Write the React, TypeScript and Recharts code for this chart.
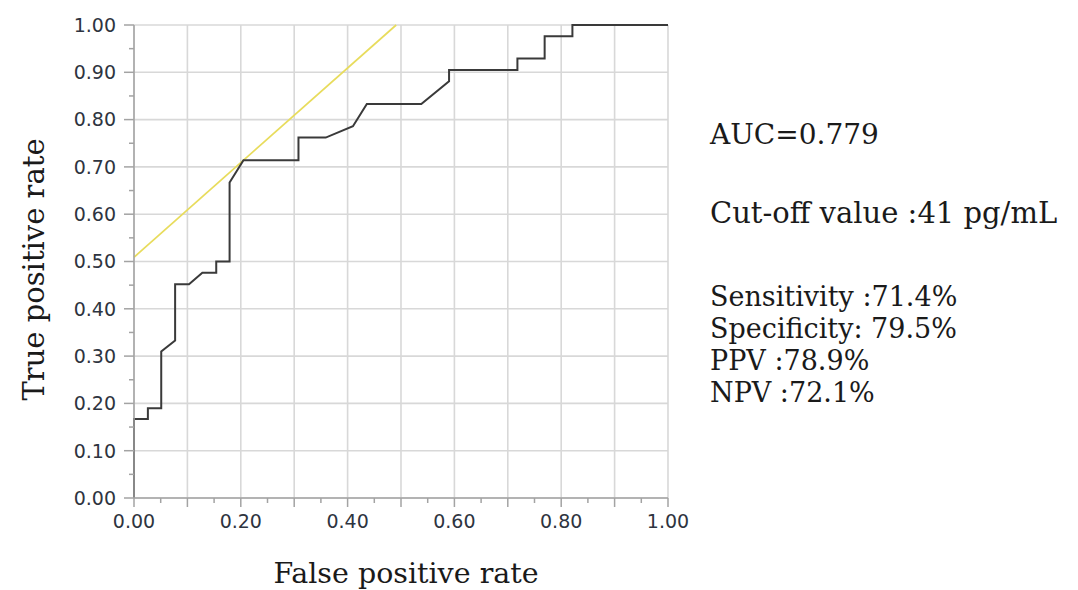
import { LineChart, Line, XAxis, YAxis, CartesianGrid, Label } from "recharts";

// ROC curve points
const rocFpr = [0, 0, 0.026, 0.026, 0.051, 0.051, 0.077, 0.077, 0.103, 0.128, 0.154, 0.154, 0.179, 0.179, 0.205, 0.308, 0.308, 0.359, 0.41, 0.436, 0.538, 0.59, 0.59, 0.718, 0.718, 0.769, 0.769, 0.821, 0.821, 1];
const rocTpr = [0, 0.167, 0.167, 0.19, 0.19, 0.31, 0.333, 0.452, 0.452, 0.476, 0.476, 0.5, 0.5, 0.667, 0.714, 0.714, 0.762, 0.762, 0.786, 0.833, 0.833, 0.881, 0.905, 0.905, 0.929, 0.929, 0.976, 0.976, 1, 1];

// yellow cut-off line (slope 1 through the best point)
const cutFpr = [0, 0.491];
const cutTpr = [0.509, 1];

const axisTicks = [0, 0.05, 0.1, 0.15, 0.2, 0.25, 0.3, 0.35, 0.4, 0.45, 0.5, 0.55, 0.6, 0.65, 0.7, 0.75, 0.8, 0.85, 0.9, 0.95, 1];
const gridValues = [0, 0.1, 0.2, 0.3, 0.4, 0.5, 0.6, 0.7, 0.8, 0.9, 1];
const xLabelValues = [0, 0.2, 0.4, 0.6, 0.8, 1];
const yLabelValues = gridValues;

const statsLines = [
  "AUC=0.779",
  "Cut-off value :41 pg/mL",
  "Sensitivity :71.4%",
  "Specificity: 79.5%",
  "PPV :78.9%",
  "NPV :72.1%",
];
const statsBaselines = [144, 223, 306, 338, 370, 402];
const statsSizes = [28, 29, 27, 27, 27, 27];

const rocData = rocFpr.map((x, i) => ({ fpr: x, tpr: rocTpr[i] }));
const cutData = cutFpr.map((x, i) => ({ fpr: x, tpr: cutTpr[i] }));

const has = (list: number[], v: number) => list.some((m) => Math.abs(m - v) < 1e-6);

const tickFont = { fontFamily: "DejaVu Sans, Verdana, sans-serif", fontSize: 19, fill: "#2e3440" };
const serif = "DejaVu Serif, serif";
const axisGray = "#a3a3a3";

const YTick = (props: any) => {
  const { x, y, payload } = props;
  const v = payload.value as number;
  const major = has(gridValues, v);
  const ax = x + 18;
  return (
    <g>
      <line x1={ax - (major ? 10 : 5)} x2={ax} y1={y} y2={y} stroke={axisGray} strokeWidth={1.5} />
      {has(yLabelValues, v) && (
        <text x={x} y={y} dy="0.36em" textAnchor="end" {...tickFont}>
          {v.toFixed(2)}
        </text>
      )}
    </g>
  );
};

const XTick = (props: any) => {
  const { x, y, payload } = props;
  const v = payload.value as number;
  const major = has(gridValues, v);
  const ay = y - 17;
  return (
    <g>
      <line x1={x} x2={x} y1={ay} y2={ay + (major ? 9 : 5)} stroke={axisGray} strokeWidth={1.5} />
      {has(xLabelValues, v) && (
        <text x={x} y={y} dy="0.71em" textAnchor="middle" {...tickFont}>
          {v.toFixed(2)}
        </text>
      )}
    </g>
  );
};

export default function App() {
  return (
    <div style={{ position: "absolute", left: 0, top: 0, width: 1078, height: 590, background: "#fff" }}>
      <LineChart width={1078} height={590} margin={{ top: 25, right: 410, bottom: 0, left: 14 }}>
        <CartesianGrid stroke="#d8d8d8" strokeWidth={1.6} verticalValues={gridValues} horizontalValues={gridValues} />
        <XAxis
          type="number"
          dataKey="fpr"
          domain={[0, 1]}
          ticks={axisTicks}
          interval={0}
          tickSize={8}
          tickMargin={9}
          tickLine={false}
          tick={<XTick />}
          height={92}
          axisLine={{ stroke: axisGray, strokeWidth: 1.5 }}
        >
          <Label
            content={({ viewBox }: any) => (
              <text
                x={viewBox.x + viewBox.width / 2 + 5}
                y={viewBox.y + viewBox.height - 7}
                textAnchor="middle"
                fontFamily={serif}
                fontSize={28.5}
                fill="#1a1a1a"
              >
                False positive rate
              </text>
            )}
          />
        </XAxis>
        <XAxis xAxisId="top" orientation="top" type="number" domain={[0, 1]} height={0} tick={false} tickLine={false} axisLine={{ stroke: axisGray, strokeWidth: 1.5 }} />
        <YAxis
          type="number"
          domain={[0, 1]}
          ticks={axisTicks}
          interval={0}
          tickSize={10}
          tickMargin={8}
          tickLine={false}
          tick={<YTick />}
          width={120}
          axisLine={{ stroke: axisGray, strokeWidth: 1.5 }}
        >
          <Label
            content={({ viewBox }: any) => {
              const cx = viewBox.x + 30;
              const cy = viewBox.y + viewBox.height / 2 + 8;
              return (
                <text
                  x={cx}
                  y={cy}
                  transform={`rotate(-90, ${cx}, ${cy})`}
                  textAnchor="middle"
                  fontFamily={serif}
                  fontSize={29}
                  fill="#1a1a1a"
                >
                  True positive rate
                </text>
              );
            }}
          />
        </YAxis>
        <YAxis yAxisId="right" orientation="right" type="number" domain={[0, 1]} width={0} tick={false} tickLine={false} axisLine={{ stroke: axisGray, strokeWidth: 1.5 }} />
        <Line data={cutData} dataKey="tpr" type="linear" stroke="#e8dc5c" strokeWidth={1.7} dot={false} isAnimationActive={false} />
        <Line data={rocData} dataKey="tpr" type="linear" stroke="#3a3a3a" strokeWidth={2} dot={false} isAnimationActive={false} />
      </LineChart>
      <svg width={1078} height={590} style={{ position: "absolute", left: 0, top: 0, pointerEvents: "none" }}>
        {statsLines.map((s, i) => (
          <text key={s} x={710} y={statsBaselines[i]} fontFamily={serif} fontSize={statsSizes[i]} fill="#1a1a1a">
            {s}
          </text>
        ))}
      </svg>
    </div>
  );
}
